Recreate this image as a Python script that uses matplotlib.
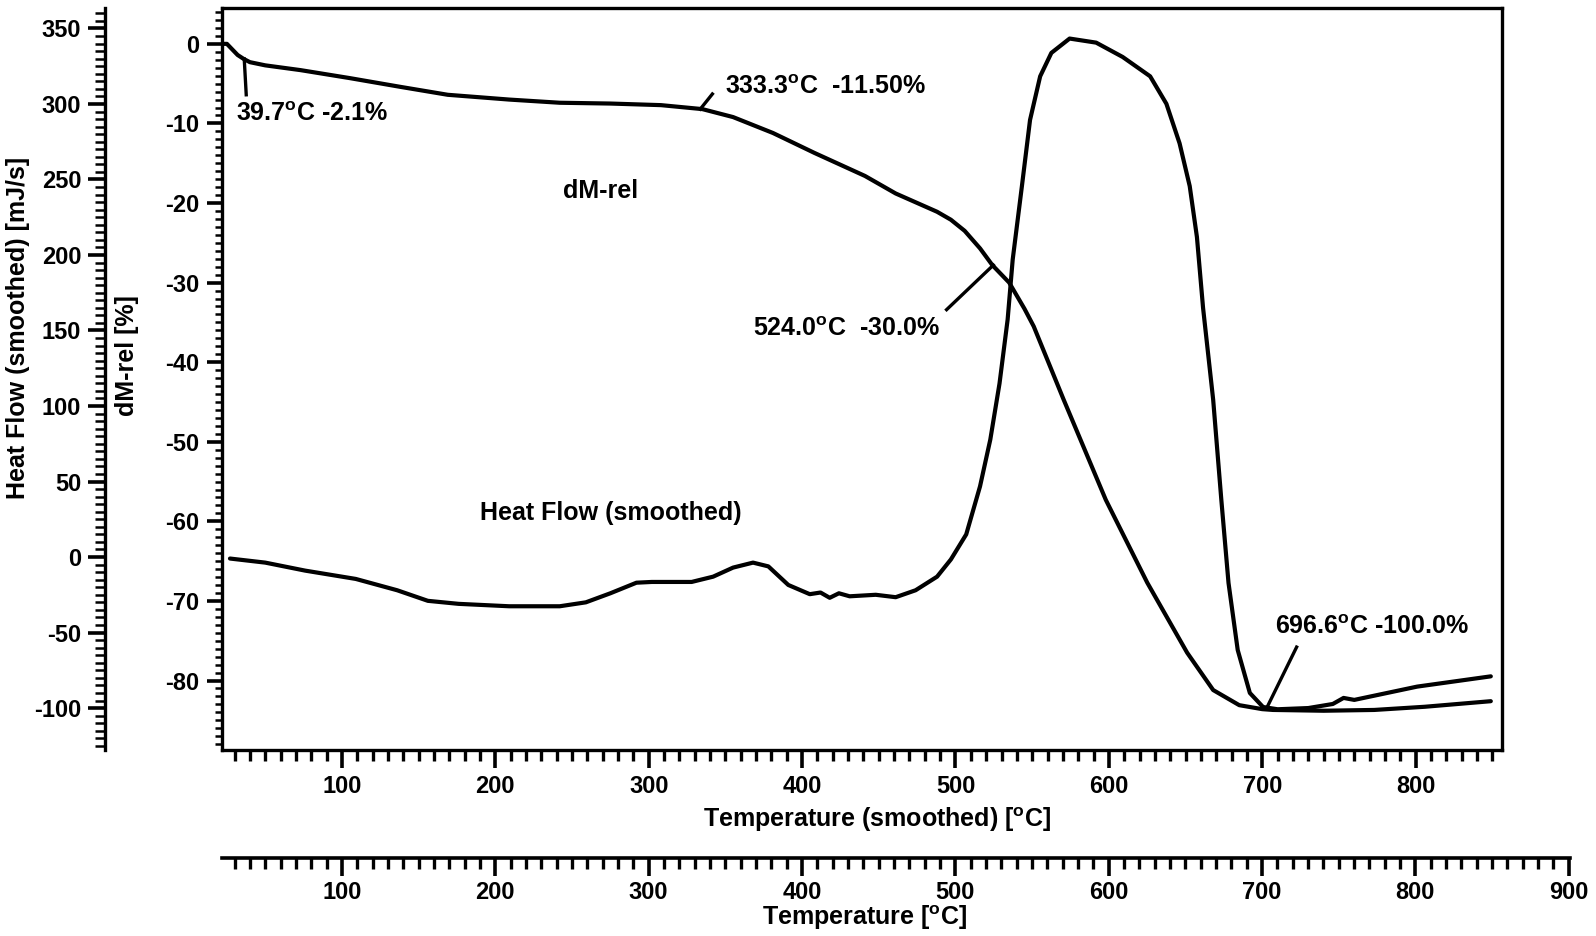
import numpy as np
import matplotlib.pyplot as plt
from matplotlib.ticker import MultipleLocator

plt.rcParams['font.family'] = ['Liberation Sans', 'DejaVu Sans']
plt.rcParams['font.weight'] = 'bold'
plt.rcParams['axes.unicode_minus'] = False
plt.rcParams['mathtext.fontset'] = 'custom'
plt.rcParams['mathtext.bf'] = 'Liberation Sans:bold'
plt.rcParams['mathtext.rm'] = 'Liberation Sans:bold'
plt.rcParams['mathtext.default'] = 'bf'

# dM-rel curve: temperature (smoothed) [°C] vs relative mass change [%]
dm_temp = [22, 25, 27, 32, 36, 40, 50, 73, 105, 138, 169, 209, 242, 275, 308, 335, 355,
           381, 408, 441, 461, 488, 497, 506, 516, 524, 535, 545, 551, 570.5, 598, 625,
           651, 668, 685, 700, 707, 740, 773, 806, 849]
dm_val = [0.0, 0.0, -0.4, -1.4, -1.9, -2.3, -2.7, -3.3, -4.3, -5.4, -6.4, -7.0, -7.4,
          -7.5, -7.7, -8.2, -9.2, -11.2, -13.7, -16.6, -18.8, -21.1, -22.1, -23.5, -25.7,
          -27.8, -30.0, -33.3, -35.5, -44.7, -57.3, -67.7, -76.5, -81.2, -83.1, -83.6,
          -83.7, -83.8, -83.7, -83.3, -82.6]

# Heat flow curve: temperature (smoothed) [°C] vs heat flow [mJ/s]
hf_temp = [27, 50, 76, 109, 136, 156, 176, 209, 242, 259, 275, 292, 302, 328, 342, 355,
           368, 378, 391, 405, 412, 418, 424, 431, 448, 461, 474, 488, 497, 507, 516,
           522.7, 528.7, 534, 537.3, 543.3, 548.6, 555.2, 562.5, 574.4, 591.7, 609,
           626.9, 637.5, 646.1, 652.7, 657.4, 661.4, 668, 673.3, 678, 684, 691.9, 700.5,
           710, 730, 746, 753, 760, 801, 849]
hf_val = [-1, -3.7, -9, -14.5, -22, -29, -31, -32.6, -32.6, -30, -24, -17, -16.5, -16.5,
          -13, -7, -3.7, -6.2, -18.5, -24.6, -23.5, -27, -24, -26, -25, -26.6, -22, -13,
          -1.6, 15, 46.8, 77.8, 114.9, 157.3, 197, 245.6, 289.4, 318.3, 333.8, 343.3,
          340.6, 331.1, 318.3, 300.1, 273.9, 245.6, 211.9, 165, 104.1, 38, -17.2, -61.6,
          -90, -99.3, -100.8, -100, -97.3, -93.3, -94.6, -85.8, -79]

x_lim = (21.7, 856.5)
dm_lim = (-88.7, 4.5)
hf_lim = (-127.6, 363.5)

tick_size = 17
ann_size = 18
lab_size = 18

fig = plt.figure(figsize=(15.96, 9.36), dpi=100)
ax = fig.add_axes([0.139, 0.199, 0.8023, 0.7924])
ax.set_xlim(*x_lim)
ax.set_ylim(*dm_lim)
for s in ax.spines.values():
    s.set_linewidth(2.4)

ax.plot(dm_temp, dm_val, color='black', lw=3.0, solid_capstyle='round',
        solid_joinstyle='round')

ax.xaxis.set_major_locator(MultipleLocator(100))
ax.xaxis.set_minor_locator(MultipleLocator(10))
ax.yaxis.set_major_locator(MultipleLocator(10))
ax.yaxis.set_minor_locator(MultipleLocator(1))
ax.tick_params(axis='x', which='major', direction='out', length=13, width=2.6, pad=5,
               labelsize=tick_size)
ax.tick_params(axis='x', which='minor', direction='out', length=8, width=2.4)
ax.tick_params(axis='y', which='major', direction='out', length=11, width=2.6, pad=5,
               labelsize=tick_size)
ax.tick_params(axis='y', which='minor', direction='out', length=5, width=1.8)
ax.set_ylabel('dM-rel [%]', fontsize=lab_size, fontweight='bold')
ax.yaxis.set_label_coords(-0.0644, 0.531)
ax.set_xlabel('Temperature (smoothed) [$^{o}$C]', fontsize=lab_size, fontweight='bold')
ax.xaxis.set_label_coords(0.512, -0.075)

# heat flow on an offset left axis
ax_hf = ax.twinx()
ax_hf.set_ylim(*hf_lim)
ax_hf.plot(hf_temp, hf_val, color='black', lw=3.0, solid_capstyle='round',
           solid_joinstyle='round')
for side in ['right', 'top', 'bottom']:
    ax_hf.spines[side].set_visible(False)
ax_hf.spines['left'].set_visible(True)
ax_hf.spines['left'].set_position(('axes', -0.0914))
ax_hf.spines['left'].set_linewidth(2.4)
ax_hf.yaxis.set_ticks_position('left')
ax_hf.yaxis.set_label_position('left')
ax_hf.yaxis.set_major_locator(MultipleLocator(50))
ax_hf.yaxis.set_minor_locator(MultipleLocator(5))
ax_hf.tick_params(axis='y', which='major', direction='out', length=12, width=2.6, pad=5,
                  labelsize=tick_size)
ax_hf.tick_params(axis='y', which='minor', direction='out', length=7, width=1.8)
ax_hf.set_ylabel('Heat Flow (smoothed) [mJ/s]', fontsize=lab_size, fontweight='bold')
ax_hf.yaxis.set_label_coords(-0.150, 0.569)

# annotations (placed in dM-rel coordinates)
ax.plot([36.3, 37.6], [-1.9, -6.4], color='black', lw=2.4)
ax.text(31, -8.8, '39.7$^{o}$C -2.1%', fontsize=ann_size, va='center', ha='left')
ax.plot([333.6, 341.5], [-8.2, -6.3], color='black', lw=2.4)
ax.text(349.5, -5.4, '333.3$^{o}$C  -11.50%', fontsize=ann_size, va='center', ha='left')
ax.plot([494.2, 524.7], [-33.4, -27.8], color='black', lw=2.4)
ax.text(368.0, -35.8, '524.0$^{o}$C  -30.0%', fontsize=ann_size, va='center', ha='left')
ax.plot([703.8, 722.4], [-83.1, -75.8], color='black', lw=2.4)
ax.text(708.5, -73.3, '696.6$^{o}$C -100.0%', fontsize=ann_size, va='center', ha='left')
ax.text(268.5, -18.5, 'dM-rel', fontsize=ann_size, va='center', ha='center')
ax.text(275, -59.0, 'Heat Flow (smoothed)', fontsize=ann_size, va='center', ha='center')

# second temperature scale below the plot
ax2 = fig.add_axes([0.139, 0.0837, 0.8444, 0.001])
ax2.set_xlim(21.7, 900.5)
ax2.set_yticks([])
for side in ['left', 'right', 'top']:
    ax2.spines[side].set_visible(False)
ax2.spines['bottom'].set_linewidth(2.6)
ax2.xaxis.set_major_locator(MultipleLocator(100))
ax2.xaxis.set_minor_locator(MultipleLocator(10))
ax2.tick_params(axis='x', which='major', direction='out', length=13, width=2.6, pad=4,
                labelsize=tick_size)
ax2.tick_params(axis='x', which='minor', direction='out', length=8, width=2.4)
fig.text(0.542, 0.0196, 'Temperature [$^{o}$C]', fontsize=lab_size, fontweight='bold',
         ha='center', va='center')

fig.savefig('out.png', dpi=100)
